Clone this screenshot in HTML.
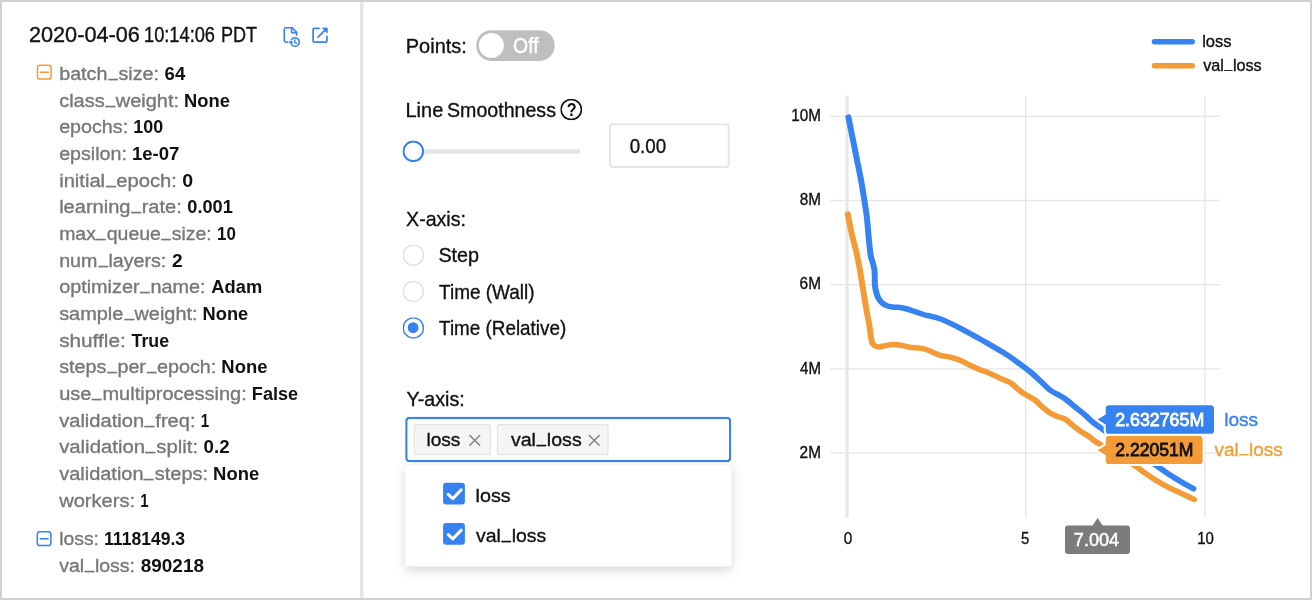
<!DOCTYPE html>
<html lang="en">
<head>
<meta charset="utf-8">
<title>Run details</title>
<style>
*{box-sizing:border-box}
html,body{margin:0;padding:0;background:#fff}
body{width:1312px;height:600px;overflow:hidden;font-family:"Liberation Sans",sans-serif;color:#111}
#app{position:relative;width:1312px;height:600px;background:#fff;overflow:hidden}
.t0{left:0;top:0}
#app div,#app span,#app ul,#app li,#app h1,#app label,#app section,#app svg,#app button{position:absolute;margin:0;padding:0;list-style:none;transform-origin:0 0}
section{left:0;top:0;width:0;height:0}
.frame{left:0;top:0;width:1312px;height:600px;border:2px solid #d0d0d0;z-index:9}
.t{white-space:nowrap;font-weight:400;font-size:18.8px;line-height:41px;height:41px;color:#111;-webkit-text-stroke:0.35px currentColor}
#app .t{transform-origin:0 50%}
.t.k{color:#777}
.t.b{font-weight:700;-webkit-text-stroke-width:0}
#app .t i{position:static;font-style:normal;display:inline-block;transform-origin:50% 50%;transform:translateY(-0.215em) scaleX(.84)}
svg{left:0;top:0;overflow:visible}
.divider{background:#e4e4e4}
.toggle{border-radius:15px;background:#bfbfbf;border:0}
.knob{border-radius:50%;background:#fff}
.help{border-radius:50%;box-shadow:inset 0 0 0 1.6px #111}
.rail{border-radius:2.3px;background:#e4e4e4}
.handle{border-radius:50%;background:#fff;box-shadow:inset 0 0 0 2.1px #3582f0}
.num{border-radius:4px;background:#fff;box-shadow:inset 0 0 0 2px #e5e5e5}
.radio{border-radius:50%;background:#fff;box-shadow:inset 0 0 0 1.35px #dfdfdf}
.radio.on{box-shadow:inset 0 0 0 1.4px #3582f0}
.dot{border-radius:50%;background:#3582f0}
.select{border-radius:4.2px;background:#fff;box-shadow:inset 0 0 0 2.2px #3582f0}
.tag{border-radius:3px;background:#f5f5f5;box-shadow:inset 0 0 0 1.3px #e3e3e3}
.drop{border-radius:3.6px;background:#fff;box-shadow:0 2.7px 10.7px rgba(0,0,0,.16)}
.cb{border-radius:3px;background:#3582f0}
</style>
</head>
<body>
<div id="app">
<section class="run">
<h1 class="run-title"><span class="t" style="left:28px;top:15px;font-size:21.5px;line-height:40px;height:40px;transform:translateX(0.97px) scaleX(1.0076)">2020-04-06</span> <span class="t" style="left:143px;top:15px;font-size:21.5px;line-height:40px;height:40px;transform:translateX(0.99px) scaleX(0.8482)">10:14:06</span> <span class="t" style="left:220px;top:15px;font-size:21.5px;line-height:40px;height:40px;transform:translateX(0.92px) scaleX(0.8419)">PDT</span> </h1>
<svg class="icons" width="360" height="600" viewBox="0 0 360 600" fill="none" stroke-linecap="round" stroke-linejoin="round">
<g stroke="#f39c37" stroke-width="1.5"><rect x="37.5" y="65.3" width="13.6" height="13.7" rx="2.6" fill="#fff"/><path d="M40.3 72.3H48.3"/></g>
<g stroke="#3582f0" stroke-width="1.5"><rect x="37.3" y="531.7" width="13.6" height="13.8" rx="2.6" fill="#fff"/><path d="M40.1 538.7H48.1"/></g>
<g stroke="#3582f0" stroke-width="1.6">
<path d="M287.6 42.2H285.9Q284.3 42.2 284.3 40.6V29.4Q284.3 27.8 285.9 27.8H292.2L296.6 32.3V35.3"/>
<path d="M291.6 28.4V32.6H296"/>
<path d="M291.3 39.9A4.3 4.3 0 1 1 291.6 44.6" stroke-width="1.5"/>
<path d="M294.8 39.7V42.3L296.5 43.3" stroke-width="1.4"/>
<path d="M289.2 41.6L290.7 43.9L292.8 42.3Z" fill="#3582f0" stroke-width="0.8"/>
</g>
<g stroke="#3582f0" stroke-width="1.7">
<path d="M319 28.3H314.6Q313.1 28.3 313.1 29.8V40.7Q313.1 42.2 314.6 42.2H325.4Q326.9 42.2 326.9 40.7V36.4"/>
<path d="M318 37.2L325.6 29.6"/>
<path d="M322.8 28.1H327.2V32.5Z" fill="#3582f0" stroke-width="0.9"/>
</g>
</svg>
<ul class="params">
<li><span class="t k" style="left:59px;top:53px;transform:translateX(0.15px) scaleX(1.0512)">batch<i>_</i>size:</span> <span class="t b" style="left:164px;top:53px;transform:translateX(0.61px) scaleX(0.9874)">64</span> </li>
<li><span class="t k" style="left:59px;top:80px;transform:translateX(0.15px) scaleX(1.0632)">class<i>_</i>weight:</span> <span class="t b" style="left:184px;top:80px;transform:translateX(0.03px) scaleX(0.9769)">None</span> </li>
<li><span class="t k" style="left:59px;top:106px;transform:translateX(0.15px) scaleX(1.0482)">epochs:</span> <span class="t b" style="left:133px;top:106px;transform:translateX(0.2px) scaleX(0.9539)">100</span> </li>
<li><span class="t k" style="left:59px;top:133px;transform:translateX(0.15px) scaleX(1.0458)">epsilon:</span> <span class="t b" style="left:131px;top:133px;transform:translateX(0.91px) scaleX(0.9875)">1e-07</span> </li>
<li><span class="t k" style="left:59px;top:160px;transform:translateX(0.15px) scaleX(1.0735)">initial<i>_</i>epoch:</span> <span class="t b" style="left:182px;top:160px;transform:translateX(0.27px) scaleX(1.0444)">0</span> </li>
<li><span class="t k" style="left:59px;top:186px;transform:translateX(0.15px) scaleX(1.0681)">learning<i>_</i>rate:</span> <span class="t b" style="left:187px;top:186px;transform:translateX(0.32px) scaleX(0.9675)">0.001</span> </li>
<li><span class="t k" style="left:59px;top:213px;transform:translateX(0.15px) scaleX(1.0366)">max<i>_</i>queue<i>_</i>size:</span> <span class="t b" style="left:217px;top:213px;transform:translateX(0.01px) scaleX(0.9)">10</span> </li>
<li><span class="t k" style="left:59px;top:240px;transform:translateX(0.15px) scaleX(1.0475)">num<i>_</i>layers:</span> <span class="t b" style="left:171px;top:240px;transform:translateX(0.89px) scaleX(1.0217)">2</span> </li>
<li><span class="t k" style="left:59px;top:266px;transform:translateX(0.15px) scaleX(1.0544)">optimizer<i>_</i>name:</span> <span class="t b" style="left:211px;top:266px;transform:translateX(0.36px) scaleX(0.974)">Adam</span> </li>
<li><span class="t k" style="left:59px;top:293px;transform:translateX(0.15px) scaleX(1.0605)">sample<i>_</i>weight:</span> <span class="t b" style="left:202px;top:293px;transform:translateX(0.59px) scaleX(0.9703)">None</span> </li>
<li><span class="t k" style="left:59px;top:320px;transform:translateX(0.15px) scaleX(1.105)">shuffle:</span> <span class="t b" style="left:131px;top:320px;transform:translateX(0.56px) scaleX(0.9475)">True</span> </li>
<li><span class="t k" style="left:59px;top:346px;transform:translateX(0.15px) scaleX(1.0523)">steps<i>_</i>per<i>_</i>epoch:</span> <span class="t b" style="left:221px;top:346px;transform:translateX(0.32px) scaleX(0.9813)">None</span> </li>
<li><span class="t k" style="left:59px;top:373px;transform:translateX(0.15px) scaleX(1.0634)">use<i>_</i>multiprocessing:</span> <span class="t b" style="left:251px;top:373px;transform:translateX(0.84px) scaleX(0.964)">False</span> </li>
<li><span class="t k" style="left:59px;top:400px;transform:translateX(0.15px) scaleX(1.0709)">validation<i>_</i>freq:</span> <span class="t b" style="left:200px;top:400px;transform:translateX(0.87px) scaleX(0.8)">1</span> </li>
<li><span class="t k" style="left:59px;top:426px;transform:translateX(0.15px) scaleX(1.0819)">validation<i>_</i>split:</span> <span class="t b" style="left:203px;top:426px;transform:translateX(0.55px) scaleX(0.9948)">0.2</span> </li>
<li><span class="t k" style="left:59px;top:453px;transform:translateX(0.15px) scaleX(1.0642)">validation<i>_</i>steps:</span> <span class="t b" style="left:213px;top:453px;transform:translateX(0.07px) scaleX(0.9813)">None</span> </li>
<li><span class="t k" style="left:59px;top:480px;transform:translateX(0.15px) scaleX(1.0706)">workers:</span> <span class="t b" style="left:140px;top:480px;transform:translateX(0.37px) scaleX(0.8)">1</span> </li>
</ul>
<ul class="metrics">
<li><span class="t k" style="left:59px;top:518px;transform:translateX(0.15px) scaleX(1.0307)">loss:</span> <span class="t b" style="left:104px;top:518px;transform:translateX(0.07px) scaleX(0.9337)">1118149.3</span> </li>
<li><span class="t k" style="left:59px;top:545px;transform:translateX(0.15px) scaleX(1.0384)">val<i>_</i>loss:</span> <span class="t b" style="left:140px;top:545px;transform:translateX(0.69px) scaleX(1.0101)">890218</span> </li>
</ul>
</section>
<div class="divider" style="left:360px;top:2px;width:3px;height:596px;transform:translate(0px,0px) scale(1.1333,1)"></div>
<section class="controls">
<div class="field"><label class="t" style="left:405px;top:25px;font-size:20.6px;transform:translateX(0.82px) scaleX(0.9682)">Points:</label> <div class="toggle" style="left:476px;top:30px;width:78px;height:31px;transform:translate(0.3px,0.2px) scale(1.0038,0.9903)"><div class="knob" style="left:2px;top:2px;width:25px;height:25px;transform:translate(0.55px,0.85px)"></div></div><span class="t" style="left:513px;top:25px;font-size:21.2px;transform:translateX(0.12px) scaleX(0.9128);color:#fff;-webkit-text-stroke-width:0.5px">Off</span> </div>
<div class="field"><label class="t0"><span class="t" style="left:405px;top:89px;font-size:20.6px;transform:translateX(0.52px) scaleX(0.9691)">Line</span> <span class="t" style="left:447px;top:89px;font-size:20.6px;transform:translateX(0.01px) scaleX(0.9518)">Smoothness</span> </label> <div class="help" style="left:560px;top:98px;width:22px;height:22px;transform:translate(0.3px,0.7px) scale(0.9955,0.9818)"></div><span class="t b" style="left:566px;top:89px;font-size:18.4px;transform:translateX(0.79px) scaleX(0.883)">?</span> <div class="rail" style="left:413px;top:149px;width:167px;height:4px;transform:translate(0px,0.3px) scale(1.0012,1.125)"></div><div class="handle" style="left:402px;top:140px;width:22px;height:22px;transform:translate(0.5px,0.5px) scale(0.9818,0.9818)"></div><div class="num" style="left:609px;top:123px;width:121px;height:45px;transform:translate(0px,0.2px) scale(0.9983,0.9978)"></div><span class="t" style="left:629px;top:125px;font-size:20.6px;transform:translateX(0.63px) scaleX(0.9103)">0.00</span> </div>
<div class="field"><label class="t" style="left:406px;top:198px;font-size:20.6px;transform:translateX(0.09px) scaleX(0.9512)">X-axis:</label>
<div class="radio" style="left:402px;top:244px;width:22px;height:22px;transform:translate(0.6px,0.45px) scale(0.9773,0.9773)"></div><label class="t" style="left:438px;top:234px;font-size:20.6px;transform:translateX(0.4px) scaleX(0.9592)">Step</label>
<div class="radio" style="left:402px;top:280px;width:22px;height:22px;transform:translate(0.6px,0.75px) scale(0.9773,0.9773)"></div><label class="t" style="left:439px;top:271px;font-size:20.6px;transform:translateX(0.09px) scaleX(0.9206)">Time (Wall)</label>
<div class="radio on" style="left:402px;top:317px;width:22px;height:22px;transform:translate(0.6px,0.15px) scale(0.9773,0.9773)"><div class="dot" style="left:5px;top:5px;width:11px;height:11px;transform:translate(0.2px,0.2px) scale(1.0091,1.0091)"></div></div><label class="t" style="left:439px;top:307px;font-size:20.6px;transform:translateX(0.09px) scaleX(0.9152)">Time (Relative)</label>
</div>
<div class="field"><label class="t" style="left:406px;top:378px;font-size:20.6px;transform:translateX(0.49px) scaleX(0.9545)">Y-axis:</label> <div class="select" style="left:405px;top:416px;width:326px;height:45px;transform:translate(0.2px,0.8px) scale(1,1.0089)"></div>
<div class="tag" style="left:413px;top:424px;width:78px;height:31px;transform:translate(0.5px,0px) scale(0.9949,1.0065)"></div><div class="tag" style="left:496px;top:424px;width:112px;height:31px;transform:translate(0.7px,0px) scale(1,1.0065)"></div><span class="t" style="left:426px;top:419px;transform:translateX(0.46px) scaleX(1.0162)">loss</span> <span class="t" style="left:510px;top:419px;transform:translateX(0.88px) scaleX(1.0433)">val<i>_</i>loss</span>
<div class="drop" style="left:405px;top:465px;width:326px;height:101px;transform:translate(0.3px,0.3px) scale(1.0006,1.003)"></div>
<div class="cb" style="left:443px;top:482px;width:22px;height:22px;transform:translate(0.1px,0.7px) scale(0.9909,0.9864)"></div><div class="cb" style="left:443px;top:523px;width:22px;height:22px;transform:translate(0.1px,0px) scale(0.9909,0.9864)"></div><label class="t" style="left:475px;top:475px;transform:translateX(0.52px) scaleX(1.0506)">loss</label> <label class="t" style="left:476px;top:515px;transform:translateX(0.08px) scaleX(1.0344)">val<i>_</i>loss</label>
<svg class="icons" width="760" height="600" viewBox="0 0 760 600" fill="none" stroke-linecap="round" stroke-linejoin="round">
<g stroke="#808080" stroke-width="1.45"><path d="M469.9 435.4L479.7 445.2M479.7 435.4L469.9 445.2"/><path d="M589.4 435.4L599.2 445.2M599.2 435.4L589.4 445.2"/></g>
<g stroke="#fff" stroke-width="3"><path d="M448.2 494.4L452.8 498.6L461.2 489.8"/><path d="M448.2 534.7L452.8 538.9L461.2 530.1"/></g>
</svg>
</div>
</section>
<section class="chart">
<svg class="plot" width="1312" height="600" viewBox="0 0 1312 600" font-family="Liberation Sans, sans-serif">
<g class="grid" fill="#e6e6e6">
<rect x="830.3" y="115.63" width="389.7" height="1.33"/>
<rect x="830.3" y="199.83" width="389.7" height="1.33"/>
<rect x="830.3" y="284.03" width="389.7" height="1.33"/>
<rect x="830.3" y="368.23" width="389.7" height="1.33"/>
<rect x="830.3" y="452.43" width="389.7" height="1.33"/>
<rect x="1025.03" y="95.8" width="1.33" height="421.8"/>
<rect x="1204.28" y="95.8" width="1.33" height="421.8"/>
<rect x="845.55" y="95.8" width="3.1" height="421.8"/>
</g>
<g class="legend" fill="none" stroke-width="5.4" stroke-linecap="round"><path d="M1154.4 41.7H1192.3" stroke="#3582f0"/><path d="M1154.4 65.8H1192.3" stroke="#f39c37"/></g>
<g class="series" fill="none" stroke-width="5.5" stroke-linecap="round" stroke-linejoin="round" transform="scale(1.09 1)">
<path d="M777.75 214.1C778.23 216.75 779.7 225.27 780.64 230C781.58 234.73 782.46 238.33 783.39 242.5C784.33 246.67 785.32 250.42 786.24 255C787.16 259.58 788.07 265 788.9 270C789.72 275 790.44 280 791.19 285C791.94 290 792.71 295.42 793.39 300C794.08 304.58 794.63 308.33 795.32 312.5C796.01 316.67 796.9 320.83 797.52 325C798.15 329.17 798.56 334.38 799.08 337.5C799.61 340.62 799.69 342.18 800.69 343.75C801.68 345.32 803.36 346.52 805.05 346.9C806.73 347.27 808.3 346.42 810.78 346C813.26 345.58 817.09 344.47 819.95 344.4C822.82 344.33 825.5 345.12 827.98 345.6C830.47 346.08 832.19 346.83 834.86 347.25C837.54 347.67 841.36 347.64 844.04 348.1C846.71 348.56 848.62 349.13 850.92 350C853.21 350.87 855.89 352.42 857.8 353.3C859.71 354.18 860.09 354.65 862.39 355.3C864.68 355.95 868.5 356.37 871.56 357.2C874.62 358.03 877.68 358.95 880.73 360.3C883.79 361.65 886.85 363.73 889.91 365.3C892.97 366.87 896.02 368.35 899.08 369.7C902.14 371.05 905.2 372 908.26 373.4C911.31 374.8 914.37 376.58 917.43 378.1C920.49 379.62 923.93 380.73 926.61 382.5C929.28 384.27 931.57 387.05 933.49 388.75C935.4 390.45 936.54 391.56 938.07 392.7C939.6 393.84 940.75 394.38 942.66 395.6C944.57 396.82 947.25 398.12 949.54 400C951.83 401.88 954.13 404.72 956.42 406.9C958.72 409.08 961.01 411.52 963.3 413.1C965.6 414.68 967.89 415.38 970.18 416.4C972.48 417.42 974.77 417.77 977.06 419.2C979.36 420.63 981.65 423.03 983.94 425C986.24 426.97 988.53 429.25 990.83 431C993.12 432.75 995.41 433.79 997.71 435.5C1000 437.21 1002.48 439.67 1004.59 441.25C1006.69 442.83 1006.8 442.62 1010.32 445C1013.84 447.38 1020.42 451.96 1025.69 455.5C1030.96 459.04 1037.8 463.32 1041.93 466.25C1046.06 469.18 1047.13 470.6 1050.46 473.1C1053.79 475.6 1058.1 478.75 1061.93 481.25C1065.75 483.75 1069.57 485.99 1073.39 488.1C1077.22 490.21 1081.19 492.02 1084.86 493.9C1088.53 495.78 1093.65 498.48 1095.41 499.4" stroke="#f39c37"/>
<path d="M778.35 117.1C778.99 120.58 780.93 131.1 782.2 138C783.47 144.9 784.68 151.5 785.96 158.5C787.25 165.5 788.73 172.98 789.91 180C791.09 187.02 792.13 194.35 793.03 200.6C793.93 206.85 794.68 211.56 795.32 217.5C795.96 223.44 796.31 230 796.88 236.25C797.45 242.5 798.08 250.62 798.72 255C799.35 259.38 800.11 260 800.69 262.5C801.27 265 801.9 267.5 802.2 270C802.51 272.5 802.45 275 802.52 277.5C802.6 280 802.43 282.5 802.66 285C802.89 287.5 803.31 290.21 803.9 292.5C804.49 294.79 805.24 296.98 806.19 298.75C807.15 300.52 808.3 301.89 809.63 303.1C810.97 304.31 812.5 305.31 814.22 306C815.94 306.69 818.04 307.02 819.95 307.25C821.87 307.48 823.78 307.15 825.69 307.4C827.6 307.65 829.13 308.05 831.42 308.75C833.72 309.45 836.58 310.56 839.45 311.6C842.32 312.64 846.33 314.27 848.62 315C850.92 315.73 850.92 315.38 853.21 316C855.5 316.62 859.33 317.57 862.39 318.75C865.44 319.93 868.5 321.54 871.56 323.1C874.62 324.66 877.68 326.37 880.73 328.1C883.79 329.83 886.85 331.68 889.91 333.5C892.97 335.32 896.02 337.12 899.08 339C902.14 340.88 905.2 342.82 908.26 344.75C911.31 346.68 914.37 348.58 917.43 350.6C920.49 352.62 923.55 354.63 926.61 356.9C929.66 359.17 932.72 361.75 935.78 364.2C938.84 366.65 941.9 368.87 944.95 371.6C948.01 374.33 951.07 377.53 954.13 380.6C957.19 383.67 960.63 387.7 963.3 390C965.98 392.3 967.89 392.94 970.18 394.4C972.48 395.86 974.39 396.67 977.06 398.75C979.74 400.83 983.18 404.19 986.24 406.9C989.3 409.61 992.74 412.5 995.41 415C998.09 417.5 1000 419.83 1002.29 421.9C1004.59 423.97 1007.45 426.05 1009.17 427.4C1010.89 428.75 1008.03 426.53 1012.61 430C1017.2 433.47 1028.51 442.16 1036.7 448.2C1044.89 454.24 1055.63 461.78 1061.74 466.25C1067.86 470.72 1069.54 472.27 1073.39 475C1077.25 477.73 1081.28 480.32 1084.86 482.6C1088.44 484.88 1093.2 487.68 1094.86 488.7" stroke="#3582f0"/>
</g>
<g class="tips">
<path d="M1109.1 405.3H1210.6Q1214 405.3 1214 408.7V430.4Q1214 433.8 1210.6 433.8H1109.1Q1105.7 433.8 1105.7 430.4V424.5L1097.6 419.5L1105.7 414.5V408.7Q1105.7 405.3 1109.1 405.3Z" fill="#3582f0" stroke="#fff" stroke-width="4" stroke-linejoin="round" paint-order="stroke"/>
<path d="M1109.1 436H1199.2Q1202.6 436 1202.6 439.4V460.7Q1202.6 464.1 1199.2 464.1H1109.1Q1105.7 464.1 1105.7 460.7V455.2L1097.6 450.2L1105.7 445.2V439.4Q1105.7 436 1109.1 436Z" fill="#f39c37" stroke="#fff" stroke-width="4" stroke-linejoin="round" paint-order="stroke"/>
<path d="M1068 525.6H1092.6L1097.6 518L1102.6 525.6H1127Q1130 525.6 1130 528.6V551Q1130 554 1127 554H1068Q1065 554 1065 551V528.6Q1065 525.6 1068 525.6Z" fill="#7c7c7c"/>
</g>
<text x="1202.16" y="47" font-size="16.2" fill="#111" stroke="#111" stroke-width="0.35" textLength="29.27" lengthAdjust="spacingAndGlyphs">loss</text>
<text x="1203.18" y="71" font-size="16.2" fill="#111" stroke="#111" stroke-width="0.35" textLength="58.55" lengthAdjust="spacingAndGlyphs">val<tspan dy="-3.2" dx="0.7" font-size="13.6">_</tspan><tspan dy="3.2" dx="0.7">loss</tspan></text>
<text x="791.23" y="121" font-size="16.2" fill="#111" stroke="#111" stroke-width="0.35" textLength="29.72" lengthAdjust="spacingAndGlyphs">10M</text>
<text x="799.7" y="205" font-size="16.2" fill="#111" stroke="#111" stroke-width="0.35" textLength="21.25" lengthAdjust="spacingAndGlyphs">8M</text>
<text x="799.61" y="289" font-size="16.2" fill="#111" stroke="#111" stroke-width="0.35" textLength="21.36" lengthAdjust="spacingAndGlyphs">6M</text>
<text x="800.08" y="374" font-size="16.2" fill="#111" stroke="#111" stroke-width="0.35" textLength="20.85" lengthAdjust="spacingAndGlyphs">4M</text>
<text x="799.61" y="458" font-size="16.2" fill="#111" stroke="#111" stroke-width="0.35" textLength="21.36" lengthAdjust="spacingAndGlyphs">2M</text>
<text x="843.7" y="544" font-size="16.2" fill="#111" stroke="#111" stroke-width="0.35" textLength="8.51" lengthAdjust="spacingAndGlyphs">0</text>
<text x="1021.11" y="544" font-size="16.2" fill="#111" stroke="#111" stroke-width="0.35" textLength="8.29" lengthAdjust="spacingAndGlyphs">5</text>
<text x="1197.15" y="544" font-size="16.2" fill="#111" stroke="#111" stroke-width="0.35" textLength="16.65" lengthAdjust="spacingAndGlyphs">10</text>
<text x="1073.87" y="546" font-size="18.8" fill="#fff" stroke="#fff" stroke-width="0.5" textLength="45.32" lengthAdjust="spacingAndGlyphs">7.004</text>
<text x="1115.21" y="426" font-size="18.2" fill="#fff" stroke="#fff" stroke-width="0.8" textLength="89.03" lengthAdjust="spacingAndGlyphs">2.632765M</text>
<text x="1115.22" y="456" font-size="18.2" fill="#111" stroke="#111" stroke-width="0.8" textLength="78.21" lengthAdjust="spacingAndGlyphs">2.22051M</text>
<text x="1224.16" y="426" font-size="18.8" fill="#3582f0" stroke="#3582f0" stroke-width="0.35" textLength="33.97" lengthAdjust="spacingAndGlyphs">loss</text>
<text x="1214.48" y="456" font-size="18.8" fill="#f39c37" stroke="#f39c37" stroke-width="0.35" textLength="68.15" lengthAdjust="spacingAndGlyphs">val<tspan dy="-3.8" dx="0.8" font-size="15.8">_</tspan><tspan dy="3.8" dx="0.8">loss</tspan></text>
</svg>
</section>
<div class="frame"></div>
</div>
</body>
</html>
